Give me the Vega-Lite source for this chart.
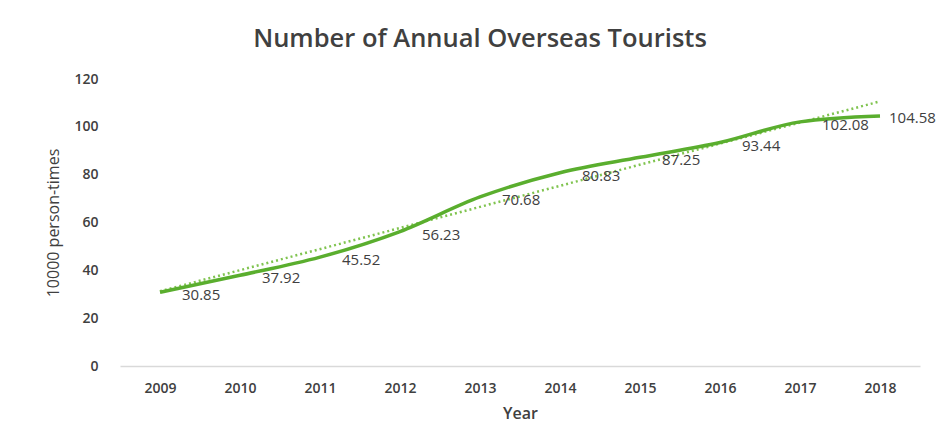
{
  "$schema": "https://vega.github.io/schema/vega-lite/v6.json",
  "width": 800,
  "height": 287,
  "autosize": {"type": "none"},
  "padding": {"left": 120, "top": 79, "right": 27, "bottom": 79},
  "background": "white",
  "title": {
    "text": "Number of Annual Overseas Tourists",
    "font": "Open Sans",
    "fontSize": 25.5,
    "fontWeight": 600,
    "color": "#404040",
    "anchor": "middle",
    "dx": -40,
    "offset": 20
  },
  "data": {
    "values": [
      {"year": 2009, "value": 30.85},
      {"year": 2010, "value": 37.92},
      {"year": 2011, "value": 45.52},
      {"year": 2012, "value": 56.23},
      {"year": 2013, "value": 70.68},
      {"year": 2014, "value": 80.83},
      {"year": 2015, "value": 87.25},
      {"year": 2016, "value": 93.44},
      {"year": 2017, "value": 102.08},
      {"year": 2018, "value": 104.58}
    ]
  },
  "encoding": {
    "x": {
      "field": "year",
      "type": "quantitative",
      "scale": {"domain": [2008.5, 2018.5], "nice": false, "zero": false},
      "axis": {
        "title": "Year",
        "values": [2009, 2010, 2011, 2012, 2013, 2014, 2015, 2016, 2017, 2018],
        "format": "d",
        "grid": false,
        "ticks": false,
        "domainColor": "#d9d9d9",
        "domainWidth": 1.5,
        "labelFont": "Open Sans",
        "labelFontSize": 14,
        "labelFontWeight": 600,
        "labelColor": "#404040",
        "labelPadding": 15,
        "titleFont": "Open Sans",
        "titleFontSize": 16,
        "titleFontWeight": 600,
        "titleColor": "#404040",
        "titlePadding": 10
      }
    },
    "y": {
      "field": "value",
      "type": "quantitative",
      "scale": {"domain": [0, 120], "nice": false},
      "axis": {
        "title": "10000 person-times",
        "values": [0, 20, 40, 60, 80, 100, 120],
        "grid": false,
        "ticks": false,
        "domain": false,
        "labelFont": "Open Sans",
        "labelFontSize": 14,
        "labelFontWeight": 600,
        "labelColor": "#404040",
        "labelPadding": 22,
        "titleFont": "Open Sans",
        "titleFontSize": 16,
        "titleFontWeight": "normal",
        "titleColor": "#404040",
        "titlePadding": 12
      }
    }
  },
  "layer": [
    {
      "transform": [{"regression": "value", "on": "year", "method": "linear"}],
      "mark": {"type": "line", "color": "#80c450", "strokeWidth": 2.5, "strokeDash": [2, 3]}
    },
    {
      "mark": {"type": "line", "color": "#5aae2e", "strokeWidth": 3.5, "interpolate": "monotone"}
    },
    {
      "transform": [{"filter": "datum.year < 2018"}],
      "mark": {"type": "text", "align": "left", "baseline": "middle", "dx": 22, "dy": 3, "font": "Open Sans", "fontSize": 15, "color": "#404040"},
      "encoding": {"text": {"field": "value", "type": "quantitative", "format": ".2f"}}
    },
    {
      "transform": [{"filter": "datum.year == 2018"}],
      "mark": {"type": "text", "align": "left", "baseline": "middle", "dx": 9, "dy": 2, "font": "Open Sans", "fontSize": 15, "color": "#404040"},
      "encoding": {"text": {"field": "value", "type": "quantitative", "format": ".2f"}}
    }
  ],
  "config": {"view": {"stroke": null}}
}
